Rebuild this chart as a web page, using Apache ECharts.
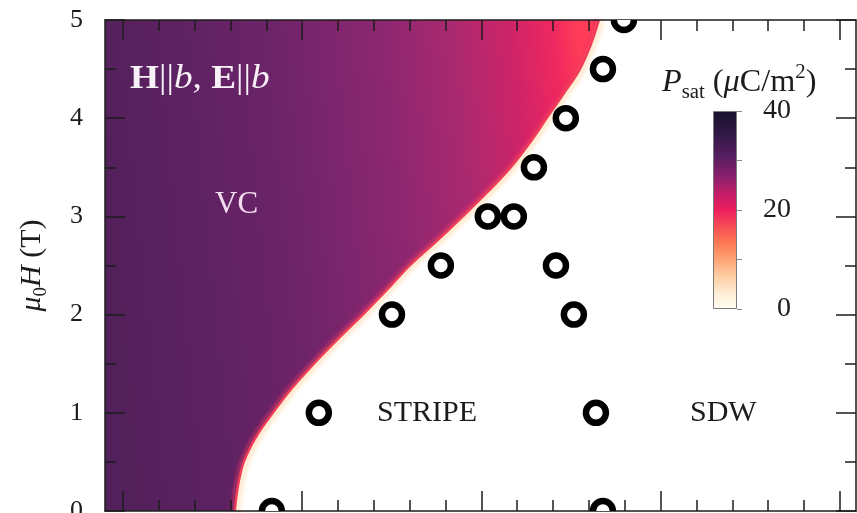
<!DOCTYPE html>
<html>
<head>
<meta charset="utf-8">
<script src="https://cdn.jsdelivr.net/npm/echarts@6/dist/echarts.min.js"></script>
<style>
  html, body { margin: 0; padding: 0; background: #fff; }
  #chart { width: 857px; height: 513px; }
</style>
</head>
<body>
<div id="chart"></div>
<script>
// Field levels (T) at which the edge of the VC phase is sampled
const fieldLevels = ['0', '0.25', '0.5', '0.75', '1', '1.25', '1.5', '1.75', '2', '2.25', '2.5',
  '2.75', '3', '3.25', '3.5', '3.75', '4', '4.25', '4.5', '4.75', '5'];
// Horizontal position of the VC phase edge at each field level
const vcEdge = [0.625, 0.642, 0.675, 0.742, 0.837, 0.943, 1.066, 1.199, 1.339, 1.473, 1.601,
  1.752, 1.897, 2.036, 2.165, 2.271, 2.365, 2.460, 2.550, 2.611, 2.656];

// Measured transition points
const pointX = [0.831, 2.678, 1.093, 2.639, 1.501, 2.516, 1.774, 2.416, 2.036, 2.181, 2.293, 2.471, 2.678, 2.795];
const pointH = [0, 0, 1, 1, 2, 2, 2.5, 2.5, 3, 3, 3.5, 4, 4.5, 5];

// Axis ticks
const majorX = [0, 1, 2, 3, 4];
const minorX = [0.2, 0.4, 0.6, 0.8, 1.2, 1.4, 1.6, 1.8, 2.2, 2.4, 2.6, 2.8, 3.2, 3.4, 3.6, 3.8];
const colorbarTicks = [0, 10, 20, 30, 40];
const colorbarLabels = [0, 20, 40];
const pMax = 40;

const SERIF = "'Liberation Serif', 'Times New Roman', serif";
const INK = '#1c1c1c';

// P_sat colour scale, bottom (0) to top (40)
const pScale = [
  [0.00, '#fffef3'], [0.08, '#feedd5'], [0.16, '#fdd0a6'], [0.25, '#fca477'],
  [0.33, '#fc7b53'], [0.42, '#f64b56'], [0.50, '#ec1f5d'], [0.58, '#c41c66'],
  [0.66, '#90206e'], [0.76, '#5a1f62'], [0.87, '#36194a'], [1.00, '#14112a']
];
// Fill across the VC region, left edge to phase edge
const vcFill = [
  [0.00, '#52205a'], [0.20, '#5d2262'], [0.40, '#6f246a'], [0.60, '#8c2771'],
  [0.75, '#aa296f'], [0.87, '#d12468'], [0.95, '#ef285f'], [1.00, '#ff3d58']
];

function linear(x, y, x2, y2, stops) {
  return new echarts.graphic.LinearGradient(x, y, x2, y2,
    stops.map(s => ({ offset: s[0], color: s[1] })));
}

function frameLine(show) {
  return { show: show, onZero: false, lineStyle: { color: INK, width: 1.5 } };
}

function xFrameAxis(position, ticks, len, withLine) {
  return {
    type: 'value', gridIndex: 0, position: position, min: -0.1, max: 4.09, z: 6,
    axisLine: frameLine(withLine),
    axisTick: { show: true, inside: true, length: len, customValues: ticks,
      lineStyle: { color: INK, width: 1.5 } },
    axisLabel: { show: false },
    splitLine: { show: false }
  };
}

function yFrameAxis(position, showLabels) {
  return {
    type: 'value', gridIndex: 0, position: position, min: 0, max: 5, interval: 1, z: 6,
    axisLine: frameLine(true),
    axisTick: { show: true, inside: true, length: 20, lineStyle: { color: INK, width: 1.5 } },
    minorTick: { show: true, splitNumber: 2, length: 11, lineStyle: { color: INK, width: 1.5 } },
    splitLine: { show: false },
    axisLabel: { show: showLabels, fontFamily: SERIF, fontSize: 26, color: INK, margin: 22 }
  };
}

const yLeft = yFrameAxis('left', true);
yLeft.name = '{i|μ}{s|0}{i|H} (T)';
yLeft.nameLocation = 'middle';
yLeft.nameGap = 54;
yLeft.nameTextStyle = {
  fontFamily: SERIF, fontSize: 30, color: INK, lineHeight: 38,
  rich: {
    i: { fontFamily: SERIF, fontSize: 30, fontStyle: 'italic', color: INK, lineHeight: 38 },
    s: { fontFamily: SERIF, fontSize: 19, color: INK, lineHeight: 14, verticalAlign: 'bottom' }
  }
};

// Edge series share the same points on the hidden field-level axis
function edgeSeries(extra) {
  return Object.assign({
    type: 'line', xAxisIndex: 0, yAxisIndex: 2,
    data: vcEdge.map((x, i) => [x, fieldLevels[i]]),
    smooth: 0.4, symbol: 'none', silent: true
  }, extra);
}

const chart = echarts.init(document.getElementById('chart'), null, { renderer: 'canvas' });

chart.setOption({
  animation: false,
  backgroundColor: '#ffffff',
  grid: [
    { left: 105, top: 20, width: 751, height: 491, containLabel: false, outerBoundsMode: 'none' },
    { left: 713, top: 111, width: 24, height: 198, containLabel: false, outerBoundsMode: 'none' }
  ],
  xAxis: [
    xFrameAxis('bottom', majorX, 20, true),
    xFrameAxis('bottom', minorX, 11, false),
    xFrameAxis('top', majorX, 20, true),
    xFrameAxis('top', minorX, 11, false),
    { type: 'category', gridIndex: 1, data: [''], show: false }
  ],
  yAxis: [
    yLeft,
    yFrameAxis('right', false),
    { type: 'category', gridIndex: 0, data: fieldLevels, boundaryGap: false, show: false,
      axisLine: { onZero: false } },
    {
      type: 'value', gridIndex: 1, position: 'right', min: 0, max: pMax, z: 10,
      axisLine: { show: false, onZero: false },
      splitLine: { show: false },
      axisTick: { show: true, length: 5, customValues: colorbarTicks,
        lineStyle: { color: '#8a8a8a', width: 1 } },
      axisLabel: { customValues: colorbarLabels, align: 'right', margin: 54,
        fontFamily: SERIF, fontSize: 28, color: INK }
    }
  ],
  series: [
    // VC region: filled from the left edge up to the phase edge
    edgeSeries({
      z: 2, lineStyle: { width: 0 },
      areaStyle: { origin: 'start', opacity: 1, color: linear(0, 0.55, 1, 0.45, vcFill) }
    }),
    // Pink glow just inside the phase edge
    edgeSeries({
      z: 3,
      lineStyle: { width: 10, color: 'rgba(238, 44, 100, 0.28)',
        shadowColor: 'rgba(238, 44, 100, 0.4)', shadowBlur: 8 }
    }),
    // Empty region beyond the phase edge
    edgeSeries({
      z: 4, lineStyle: { width: 0 },
      areaStyle: { origin: 'end', opacity: 1, color: '#ffffff' }
    }),
    // Bright rim along the phase edge
    edgeSeries({
      z: 5,
      lineStyle: { width: 2.2, color: '#f23c55', shadowColor: '#ffc57c',
        shadowBlur: 5, shadowOffsetX: 2.5, shadowOffsetY: 1 }
    }),
    {
      // Open circles for the measured transitions
      type: 'custom', xAxisIndex: 0, yAxisIndex: 0, z: 8, clip: true, silent: true,
      data: pointX.map((x, i) => [x, pointH[i]]),
      renderItem: function (params, api) {
        const c = api.coord([api.value(0), api.value(1)]);
        return {
          type: 'circle',
          shape: { cx: c[0], cy: c[1], r: 10 },
          style: { fill: '#ffffff', stroke: '#000000', lineWidth: 6.5 }
        };
      }
    },
    {
      // Colour bar
      type: 'bar', xAxisIndex: 4, yAxisIndex: 3, barWidth: '100%', silent: true, z: 9,
      data: [pMax],
      itemStyle: { color: linear(0, 1, 0, 0, pScale), borderColor: '#7a7a7a', borderWidth: 1 }
    }
  ],
  graphic: [
    {
      type: 'text', x: 130, y: 79, z: 20, silent: true, scaleX: 1.13,
      style: {
        text: '{b|H}{r|||}{i|b}{r|, }{b|E}{r|||}{i|b}',
        verticalAlign: 'middle', fill: '#f7f0f7',
        rich: {
          b: { fontFamily: SERIF, fontSize: 33, fontWeight: 'bold', fill: '#f7f0f7' },
          i: { fontFamily: SERIF, fontSize: 33, fontStyle: 'italic', fill: '#f7f0f7' },
          r: { fontFamily: SERIF, fontSize: 33, fill: '#f7f0f7' }
        }
      }
    },
    {
      type: 'text', x: 215, y: 205, z: 20, silent: true,
      style: { text: 'VC', fontFamily: SERIF, fontSize: 31, fill: '#f4dcf0', verticalAlign: 'middle' }
    },
    {
      type: 'text', x: 377, y: 413, z: 20, silent: true,
      style: { text: 'STRIPE', fontFamily: SERIF, fontSize: 30, fill: INK, verticalAlign: 'middle' }
    },
    {
      type: 'text', x: 690, y: 413, z: 20, silent: true,
      style: { text: 'SDW', fontFamily: SERIF, fontSize: 30, fill: INK, verticalAlign: 'middle' }
    },
    {
      type: 'text', x: 662, y: 83, z: 20, silent: true, scaleX: 1.04,
      style: {
        text: '{i|P}{s|sat}{n| (}{i|μ}{n|C/m}{u|2}{n|)}',
        verticalAlign: 'middle',
        rich: {
          i: { fontFamily: SERIF, fontSize: 31, fontStyle: 'italic', fill: INK, lineHeight: 40 },
          n: { fontFamily: SERIF, fontSize: 31, fill: INK, lineHeight: 40 },
          s: { fontFamily: SERIF, fontSize: 20, fill: INK, lineHeight: 14, verticalAlign: 'bottom' },
          u: { fontFamily: SERIF, fontSize: 20, fill: INK, lineHeight: 14, verticalAlign: 'top' }
        }
      }
    }
  ]
});
</script>
</body>
</html>
